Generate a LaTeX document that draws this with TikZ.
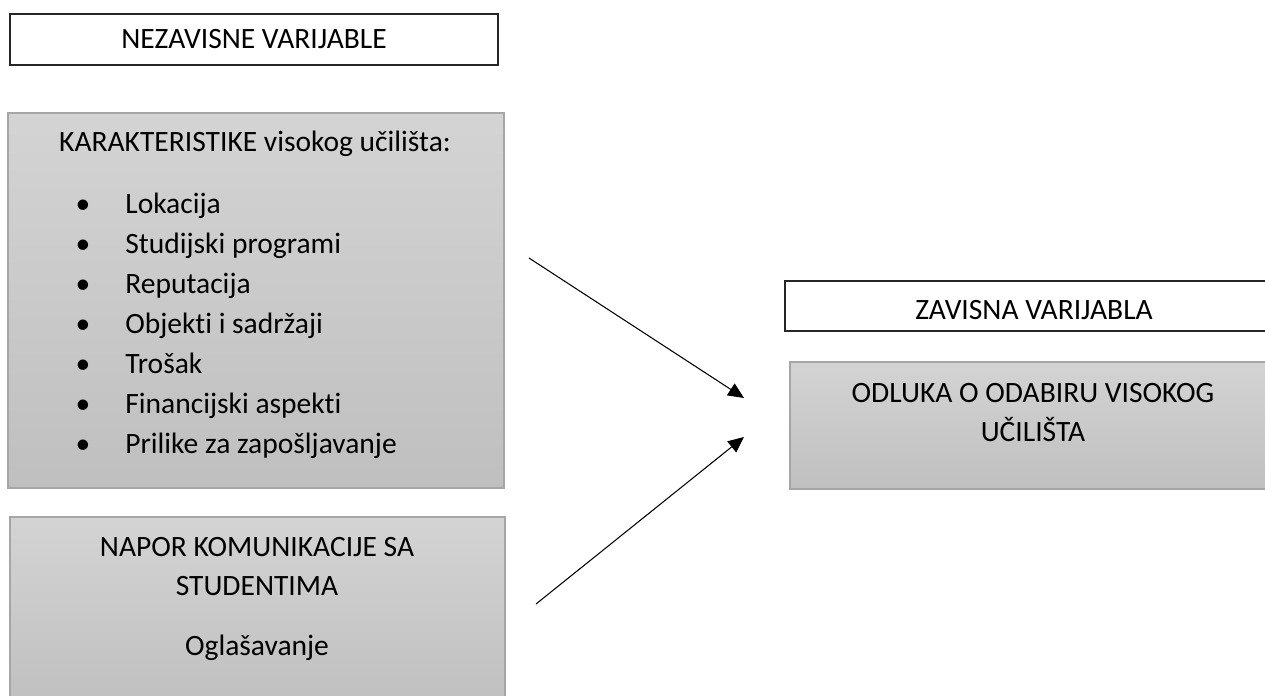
\documentclass[tikz,border=0pt]{standalone}
\usepackage{fontspec}
\setmainfont{Carlito}[Ligatures=NoCommon]
\usetikzlibrary{positioning}
\usetikzlibrary{arrows.meta}
\tikzset{plain/.style={draw=black!85, line width=0.6pt, fill=white, inner sep=0pt}}
\tikzset{shaded/.style={draw=black!35, line width=0.9pt, top color=black!17, bottom color=black!25, inner sep=0pt}}
\tikzset{lbl/.style={font=\fontsize{16.8}{20}\selectfont, inner sep=0pt, anchor=base}}
\tikzset{>={Triangle[length=9pt,width=8pt]}}

\begin{document}
\begin{tikzpicture}
        \clip (0,0) rectangle (25.3,-13.9);
        \useasboundingbox (0,0) rectangle (25.3,-13.9);

        % left column
        \node[plain, minimum width=9.76cm, minimum height=1.02cm] (indep) at (5.08,-0.79) {};
        \node[shaded, minimum width=9.92cm, minimum height=7.5cm] (karak) at (5.12,-6.01) {};
        \node[shaded, minimum width=9.9cm, minimum height=3.8cm] (napor) at (5.15,-12.24) {};

        % right column
        \node[plain, minimum width=9.8cm, minimum height=1.0cm] (dep) at (20.6,-6.12) {};
        \node[shaded, minimum width=9.7cm, minimum height=2.54cm] (odluka) at (20.65,-8.51) {};

        \node[lbl] (indeptxt) at (5.08,-0.97) {NEZAVISNE VARIJABLE};
        \node[lbl] (kartitle) at (5.1,-3.03) {KARAKTERISTIKE visokog učilišta:};
        \foreach \lab [count=\i] in {Lokacija, Studijski programi, Reputacija, Objekti i sadržaji, Trošak, Financijski aspekti, Prilike za zapošljavanje} {
            \node[lbl, anchor=base west] (item\i) at (2.5,{-4.27-0.8*(\i-1)}) {\lab};
            \node[lbl] (bul\i) at (1.66,{-4.27-0.8*(\i-1)}) {\textbullet};
        }
        \node[lbl] (napor1) at (5.14,-11.13) {NAPOR KOMUNIKACIJE SA};
        \node[lbl] (napor2) at (5.14,-11.9) {STUDENTIMA};
        \node[lbl] (oglas) at (5.14,-13.11) {Oglašavanje};

        \node[lbl] (deptxt) at (20.68,-6.39) {ZAVISNA VARIJABLA};
        \node[lbl] (odluka1) at (20.66,-8.05) {ODLUKA O ODABIRU VISOKOG};
        \node[lbl] (odluka2) at (20.66,-8.83) {UČILIŠTA};

        \coordinate (a1s) at (10.58,-5.16);
        \coordinate (a1e) at (14.88,-7.96);
        \coordinate (a2s) at (10.72,-12.08);
        \coordinate (a2e) at (14.88,-8.74);

        \draw[->, line width=0.6pt] (a1s) -- (a1e);
        \draw[->, line width=0.6pt] (a2s) -- (a2e);
    \end{tikzpicture}
\end{document}
